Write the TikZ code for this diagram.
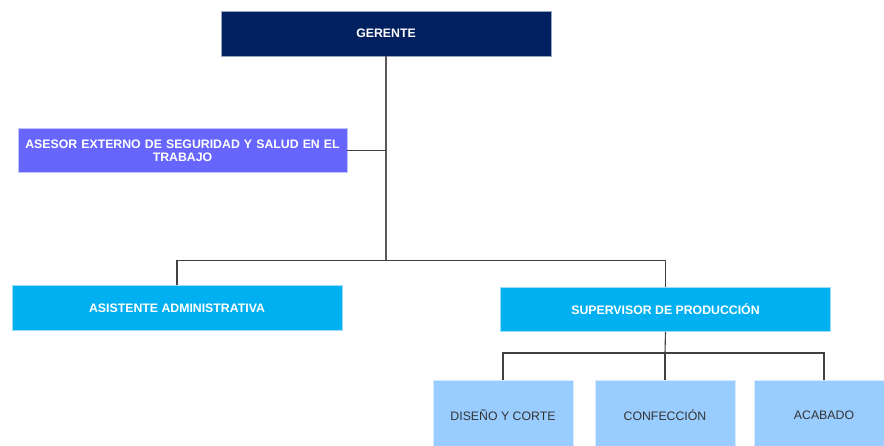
\documentclass[tikz,border=0pt]{standalone}
\usepackage{fontspec}
\setmainfont{Liberation Sans}
\definecolor{navy}{HTML}{002060}
\definecolor{lila}{HTML}{6666FF}
\definecolor{cyan}{HTML}{00B0F0}
\definecolor{celeste}{HTML}{99CCFF}
\definecolor{texto}{HTML}{333333}
\tikzset{
	cargo/.style={rectangle, draw=white!60!#1, line width=0.6pt, fill=#1, text=white,
		font=\fontsize{12.3}{13}\selectfont\bfseries, inner sep=2pt},
	area/.style={rectangle, draw=white!60!celeste, line width=0.6pt, fill=celeste, text=texto,
		font=\fontsize{12.3}{13}\selectfont, minimum width=140pt, minimum height=70pt},
	linea/.style={draw=black!75, line width=1.1pt}
}
\begin{document}
\begin{tikzpicture}[x=1pt,y=-1pt]
		\clip (0,0) rectangle (884,445);
		\node[cargo=navy, minimum width=330pt, minimum height=45pt] (gerente) at (386,33.5) {GERENTE};
		\node[cargo=lila, minimum width=329pt, minimum height=44pt, text width=324pt, align=center] (asesor) at (182.5,150.5) {ASESOR EXTERNO DE SEGURIDAD Y SALUD EN EL\\TRABAJO};
		\node[cargo=cyan, minimum width=330pt, minimum height=45pt] (asistente) at (177,308) {ASISTENTE ADMINISTRATIVA};
		\node[cargo=cyan, minimum width=330pt, minimum height=44pt] (supervisor) at (665.5,309.5) {SUPERVISOR DE PRODUCCIÓN};
		\foreach \n/\x/\t in {diseno/503/DISEÑO Y CORTE, confeccion/665/CONFECCIÓN, acabado/824/ACABADO}{
			\node[area] (\n) at (\x,415) {\t};
		};
		\coordinate (hub) at (386,260.5);
		\coordinate (sub) at (665,353);

		\draw[linea, line width=1.6pt, draw=black!65] (gerente) -- (hub);
		\draw[linea] (asesor.east) -- (asesor.east -| hub);
		\draw[linea] (asistente.north) |- (hub) -| (supervisor.north);

		\draw[linea] (supervisor.south) -- (sub);
		\draw[linea] (diseno.north) |- (sub) -| (acabado.north);
		\draw[linea] (sub) -- (confeccion.north);
	\end{tikzpicture}
\end{document}
